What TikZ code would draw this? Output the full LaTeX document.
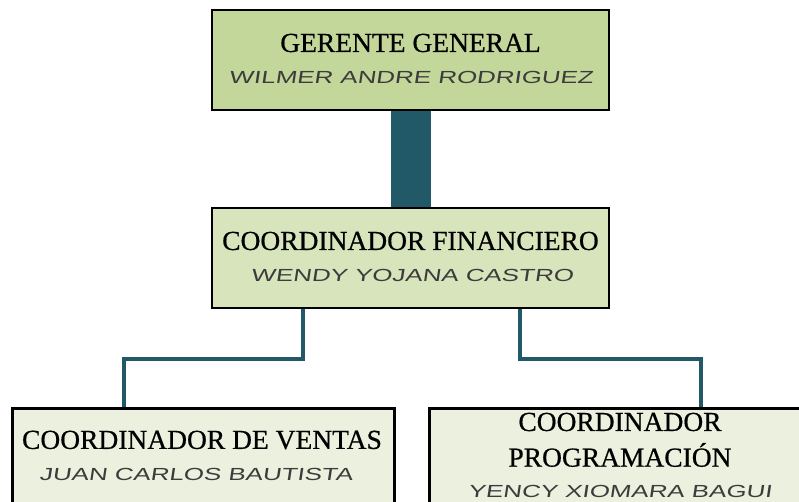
\documentclass[tikz,border=0pt]{standalone}
\usepackage{fontspec}
\setmainfont{Liberation Serif}
\newfontfamily\titlefont[FakeBold=0.6]{Liberation Serif}
\newfontfamily\handfont[FakeStretch=1.48,FakeSlant=0.15]{Liberation Sans}
\definecolor{fillA}{HTML}{C4D79B}
\definecolor{fillB}{HTML}{D8E4BC}
\definecolor{fillC}{HTML}{EBF1DE}
\definecolor{teal}{HTML}{215968}
\definecolor{namegray}{HTML}{3C3C3C}
\begin{document}
\begin{tikzpicture}[x=1pt,y=-1pt,
  box/.style={draw=black,line width=2.6pt,inner sep=0pt},
  ttl/.style={font=\titlefont\fontsize{27.5}{33}\selectfont,text=black,inner sep=0pt,align=center},
  nm/.style={font=\handfont\fontsize{17.5}{20}\selectfont,text=namegray,inner sep=0pt},
  link/.style={draw=teal,line width=4pt}]
\useasboundingbox (0,0) rectangle (799,502);
\clip (0,0) rectangle (799,502);
% boxes
\node[box,fill=fillA,minimum width=397pt,minimum height=100pt] (ger) at (410.5,60) {};
\node[box,fill=fillB,minimum width=397pt,minimum height=100pt] (fin) at (410.5,258) {};
\node[box,fill=fillC,minimum width=382pt,minimum height=130pt,anchor=north west] (ven) at (11,407) {};
\node[box,fill=fillC,minimum width=380pt,minimum height=130pt,anchor=north west] (pro) at (428,407) {};
% texts
\node[ttl] (gert) at (410.5,43) {GERENTE GENERAL};
\node[nm] (gern) at (411,77) {WILMER ANDRE RODRIGUEZ};
\node[ttl] (fint) at (410.5,241) {COORDINADOR FINANCIERO};
\node[nm] (finn) at (412,275) {WENDY YOJANA CASTRO};
\node[ttl] (vent) at (202,440) {COORDINADOR DE VENTAS};
\node[nm] (venn) at (196,474) {JUAN CARLOS BAUTISTA};
\node[ttl] (prot1) at (620,422) {COORDINADOR};
\node[ttl] (prot2) at (620,455) {PROGRAMACIÓN};
\node[nm] (pron) at (620,491) {YENCY XIOMARA BAGUI};
% connectors
\fill[teal] ([xshift=-20pt]ger.south) rectangle ([xshift=20pt]fin.north);
\coordinate (fL) at ([xshift=-107.5pt]fin.south);
\coordinate (fR) at ([xshift=109.5pt]fin.south);
\coordinate (vT) at ([xshift=-79pt]ven.north);
\coordinate (pT) at ([xshift=82pt]pro.north);
\draw[link] (fL) -- (fL |- 0,359) -| (vT);
\draw[link] (fR) -- (fR |- 0,359) -| (pT);
\end{tikzpicture}
\end{document}
